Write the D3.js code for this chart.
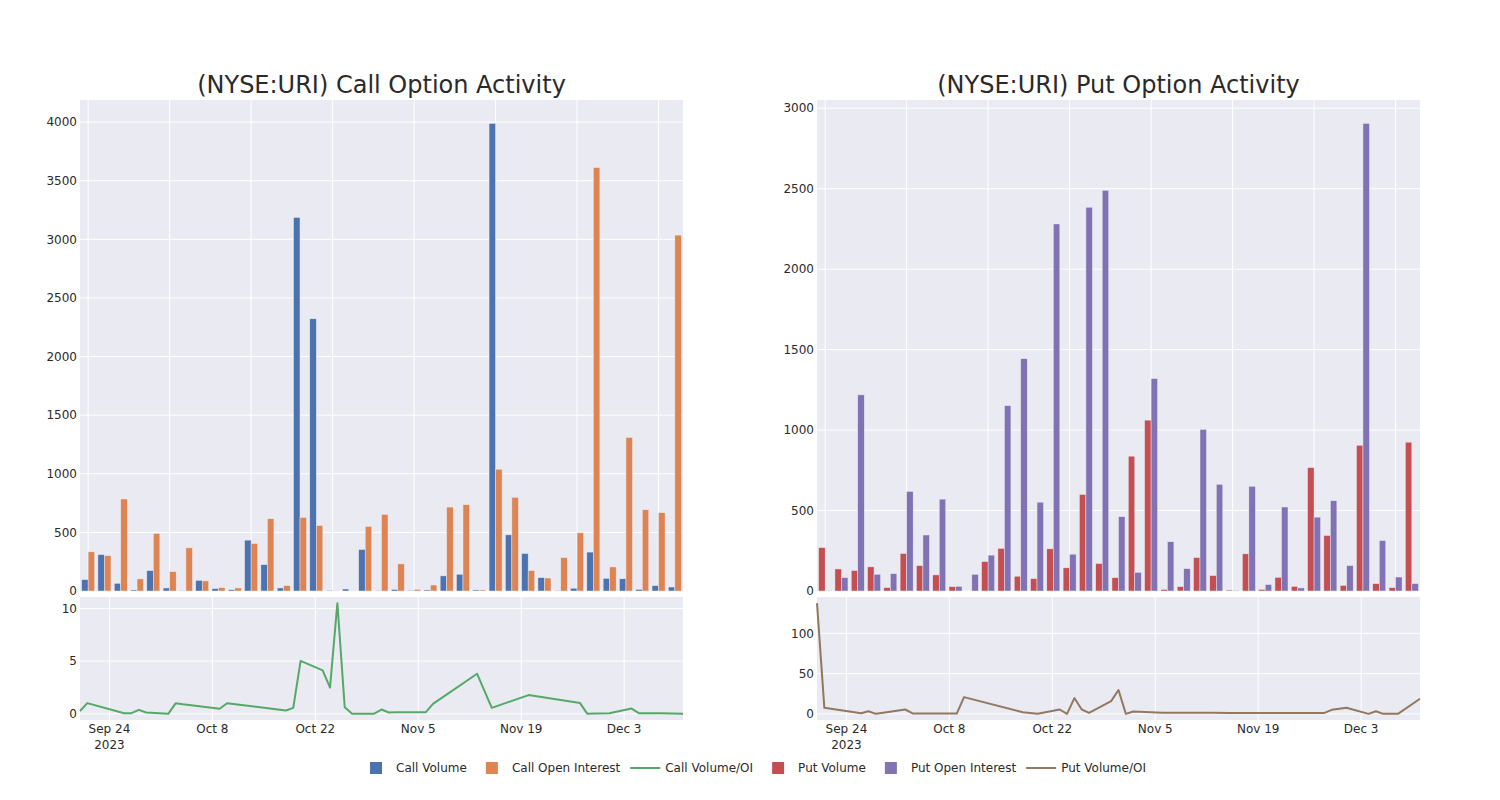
<!DOCTYPE html>
<html><head><meta charset="utf-8">
<script src="https://cdn.jsdelivr.net/npm/d3@7"></script>
<style>body{margin:0;background:#fff} text{font-family:"DejaVu Sans",sans-serif;fill:#2a2a2a}</style>
</head><body><svg id="c" width="1500" height="800"></svg>
<script>
const dates = ["2023-09-20","2023-09-21","2023-09-26","2023-09-27","2023-09-28","2023-09-29","2023-10-02","2023-10-03","2023-10-04","2023-10-09","2023-10-10","2023-10-18","2023-10-19","2023-10-20","2023-10-23","2023-10-24","2023-10-25","2023-10-26","2023-10-27","2023-10-30","2023-10-31","2023-11-01","2023-11-02","2023-11-06","2023-11-07","2023-11-13","2023-11-15","2023-11-20","2023-11-27","2023-11-28","2023-11-29","2023-12-01","2023-12-04","2023-12-05","2023-12-06","2023-12-08","2023-12-11"];
const callVolume = [97,311,66,9,174,26,3,91,20,11,434,225,26,3187,2322,6,17,354,2,14,6,9,129,143,9,3989,479,320,114,2,24,332,108,104,14,46,34];
const callOpenInterest = [334,302,785,103,491,165,368,86,28,26,405,616,46,628,559,1,1,551,653,231,14,51,716,736,9,1039,799,174,111,285,496,3612,205,1310,693,668,3036];
const callVolOI = [0.27,1.02,0.06,0.06,0.38,0.13,0.0,1.0,0.9,0.48,1.0,0.32,0.57,5.02,4.13,2.48,10.5,0.63,0.0,0.02,0.41,0.13,0.15,0.14,0.95,3.8,0.57,1.78,1.02,0.0,0.03,0.05,0.5,0.06,0.05,0.05,0.01];
const putVolume = [270,137,127,150,21,233,158,100,27,0,183,265,92,77,262,144,600,171,83,838,1062,10,27,208,96,6,231,10,85,29,767,345,35,906,46,21,925];
const putOpenInterest = [2,83,1219,104,108,619,348,571,29,104,223,1152,1444,552,2281,229,2385,2490,462,116,1320,306,139,1004,663,4,651,40,522,19,459,561,158,2906,314,87,46];
const putVolOI = [137.5,7.5,0.8,3.3,0,1.3,5.4,0.5,0.5,0.3,20.8,2,1,0,5.4,0,19.6,5.4,1.3,15.8,29.6,0,2.9,1.5,1.4,1.3,1.2,1.0,1.0,1.2,5,7.5,0,3.3,0,0,18.8];
const dateTicks = ["2023-09-24","2023-10-08","2023-10-22","2023-11-05","2023-11-19","2023-12-03"];
const titles = ["(NYSE:URI) Call Option Activity","(NYSE:URI) Put Option Activity"];
const seriesNames = ["Call Volume","Call Open Interest","Call Volume/OI","Put Volume","Put Open Interest","Put Volume/OI"];
const colors = ["#4C72B0","#DD8452","#55A868","#C44E52","#8172B3","#937860"];

const svg = d3.select("#c");
const parse = d3.timeParse("%Y-%m-%d");
const BG = "#EAEAF2";
const TOP = {y0: 100, y1: 591};
const BOT = {y0: 597, y1: 720};

function panel(x0, x1, title, vol, oi, ratio, cVol, cOI, cLine) {
  const g = svg.append("g");
  g.append("rect").attr("x", x0).attr("y", TOP.y0).attr("width", x1 - x0).attr("height", TOP.y1 - TOP.y0).attr("fill", BG);
  g.append("rect").attr("x", x0).attr("y", BOT.y0).attr("width", x1 - x0).attr("height", BOT.y1 - BOT.y0).attr("fill", BG);

  const xb = d3.scaleBand().domain(dates).range([x0, x1]).paddingInner(0.2).paddingOuter(0.1);
  const xs = d3.scaleBand().domain(["v", "o"]).range([0, xb.bandwidth()]);
  const ymax = d3.max(vol.concat(oi)) * 1.05;
  const yb = d3.scaleLinear().domain([0, ymax]).range([TOP.y1, TOP.y0]);

  const catTicks = dates.filter((d, i) => i % 5 === 0);
  g.selectAll(".bvg").data(catTicks).join("line")
    .attr("x1", d => xb(d) + xb.bandwidth() / 2).attr("x2", d => xb(d) + xb.bandwidth() / 2)
    .attr("y1", TOP.y0).attr("y2", TOP.y1).attr("stroke", "#fff").attr("stroke-width", 1);
  const ybt = yb.ticks(6);
  g.selectAll(".bhg").data(ybt).join("line")
    .attr("x1", x0).attr("x2", x1).attr("y1", d => yb(d)).attr("y2", d => yb(d))
    .attr("stroke", "#fff").attr("stroke-width", 1);
  g.selectAll(".byl").data(ybt).join("text")
    .attr("x", x0 - 3).attr("y", d => yb(d)).attr("dy", "0.35em").attr("text-anchor", "end")
    .attr("font-size", 12).text(d => d);

  const rows = dates.map((d, i) => ({d, v: vol[i], o: oi[i]}));
  const bg = g.selectAll(".grp").data(rows).join("g").attr("transform", r => `translate(${xb(r.d)},0)`);
  bg.append("rect").attr("x", xs("v")).attr("width", xs.bandwidth())
    .attr("y", r => yb(r.v)).attr("height", r => yb(0) - yb(r.v))
    .attr("fill", cVol).attr("stroke", BG).attr("stroke-width", 0.5);
  bg.append("rect").attr("x", xs("o")).attr("width", xs.bandwidth())
    .attr("y", r => yb(r.o)).attr("height", r => yb(0) - yb(r.o))
    .attr("fill", cOI).attr("stroke", BG).attr("stroke-width", 0.5);

  const pd = dates.map(parse);
  const xt = d3.scaleTime().domain(d3.extent(pd)).range([x0, x1]);
  const mn = d3.min(ratio), mx = d3.max(ratio), pad = (mx - mn) * 0.0556;
  const yl = d3.scaleLinear().domain([mn - pad, mx + pad]).range([BOT.y1, BOT.y0]);
  const tks = dateTicks.map(parse);
  g.selectAll(".lvg").data(tks).join("line")
    .attr("x1", d => xt(d)).attr("x2", d => xt(d)).attr("y1", BOT.y0).attr("y2", BOT.y1)
    .attr("stroke", "#fff").attr("stroke-width", 1);
  const ylt = yl.ticks(3);
  g.selectAll(".lhg").data(ylt).join("line")
    .attr("x1", x0).attr("x2", x1).attr("y1", d => yl(d)).attr("y2", d => yl(d))
    .attr("stroke", "#fff").attr("stroke-width", 1);
  g.selectAll(".lyl").data(ylt).join("text")
    .attr("x", x0 - 3).attr("y", d => yl(d)).attr("dy", "0.35em").attr("text-anchor", "end")
    .attr("font-size", 12).text(d => d);
  const fmt = d3.timeFormat("%b %-d");
  const xl = g.selectAll(".lxl").data(tks).join("text")
    .attr("x", d => xt(d)).attr("y", BOT.y1 + 13).attr("text-anchor", "middle").attr("font-size", 12);
  xl.append("tspan").attr("x", d => xt(d)).attr("dy", 0).text(d => fmt(d));
  xl.filter((d, i) => i === 0).append("tspan").attr("x", d => xt(d)).attr("dy", 16).text(d => d3.timeFormat("%Y")(d));

  const line = d3.line().x((d, i) => xt(pd[i])).y(d => yl(d));
  g.append("path").datum(ratio).attr("d", line).attr("fill", "none")
    .attr("stroke", cLine).attr("stroke-width", 2).attr("stroke-linejoin", "round");

  g.append("text").attr("x", (x0 + x1) / 2).attr("y", 93).attr("text-anchor", "middle")
    .attr("font-size", 24).text(title);
}

panel(80, 683, titles[0], callVolume, callOpenInterest, callVolOI, colors[0], colors[1], colors[2]);
panel(817, 1420, titles[1], putVolume, putOpenInterest, putVolOI, colors[3], colors[4], colors[5]);

const types = ["bar","bar","line","bar","bar","line"];
const leg = svg.append("g");
let cx = 0;
seriesNames.forEach((n, i) => {
  const it = leg.append("g");
  if (types[i] === "bar") {
    it.append("rect").attr("x", 14).attr("y", -6).attr("width", 12).attr("height", 12).attr("fill", colors[i]);
  } else {
    it.append("line").attr("x1", 5).attr("x2", 35).attr("y1", 0).attr("y2", 0).attr("stroke", colors[i]).attr("stroke-width", 2);
  }
  const t = it.append("text").attr("x", 40).attr("y", 0).attr("dy", "0.35em").attr("font-size", 12).text(n);
  const w = 40 + t.node().getComputedTextLength();
  it.attr("transform", `translate(${cx},0)`);
  cx += w + 5;
});
const total = cx - 5;
leg.attr("transform", `translate(${751 - total / 2},768)`);
</script></body></html>
